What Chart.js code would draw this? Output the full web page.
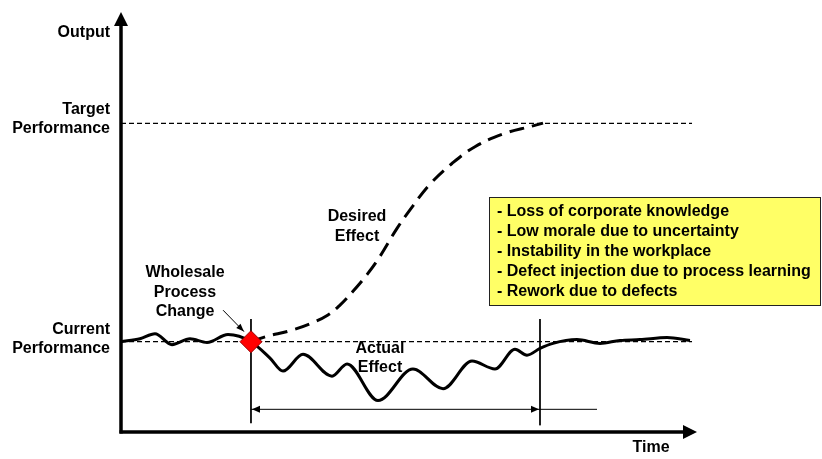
<!DOCTYPE html>
<html>
<head>
<meta charset="utf-8">
<script src="https://cdn.jsdelivr.net/npm/chart.js@4/dist/chart.umd.min.js"></script>
<style>
html,body{margin:0;padding:0;background:#fff;}
#wrap{width:822px;height:459px;position:relative;}
</style>
</head>
<body>
<div id="wrap"><canvas id="c" width="822" height="459"></canvas></div>
<script>
// ---- Data (conceptual units: time 0..100, output 0..100) ----
const CURRENT_PERF = 21.5;
const TARGET_PERF = 73.5;
const REF_END_X = 98.45;
const CHANGE_X = 22.41;
const RECOVER_X = 72.24;
const SPAN_END_X = 82.07;
const SPAN_Y = 5.4;

const actualX = [0, 3.28, 5.86, 8.79, 11.9, 14.83, 18.45, 22.41, 25.69, 27.93, 31.38, 36.38, 38.97, 44.31, 50.34, 55.52, 60.52, 64.48, 67.93, 70.0, 72.24, 74.48, 78.62, 82.59, 86.03, 89.48, 94.14, 98.1];
const actualY = [21.5, 22.2, 23.4, 20.8, 22.2, 21.3, 23.2, 21.5, 17.6, 14.5, 18.5, 13.3, 16.2, 7.5, 15.0, 10.3, 16.9, 15.0, 19.7, 18.3, 19.9, 21.1, 22.0, 21.1, 21.8, 22.0, 22.5, 21.8];

const desiredX = [22.41, 25.0, 29.14, 32.59, 35.69, 37.76, 40.0, 42.41, 44.48, 47.59, 50.34, 53.28, 57.07, 61.03, 65.86, 70.86, 72.76];
const desiredY = [21.5, 22.72, 24.12, 25.76, 27.87, 30.21, 33.49, 37.47, 41.45, 48.48, 53.86, 59.02, 63.93, 67.92, 70.96, 72.83, 73.54];

const markerTop = 26.9;
const markerBottomLeft = 2.1;
const markerBottomRight = 1.6;

// ---- Text ----
const yAxisTitle = "Output";
const xAxisTitle = "Time";
const targetLabel = ["Target", "Performance"];
const currentLabel = ["Current", "Performance"];
const changeLabel = ["Wholesale", "Process", "Change"];
const desiredLabel = ["Desired", "Effect"];
const actualLabel = ["Actual", "Effect"];
const causes = [
  "- Loss of corporate knowledge",
  "- Low morale due to uncertainty",
  "- Instability in the workplace",
  "- Defect injection due to process learning",
  "- Rework due to defects"
];

const pts = (xs, ys) => xs.map((x, i) => ({x: x, y: ys[i]}));
const FONT = 'bold 16px "Liberation Sans", Arial, sans-serif';

function arrowHead(ctx, tipX, tipY, angle, len, half) {
  ctx.save();
  ctx.translate(tipX, tipY);
  ctx.rotate(angle);
  ctx.beginPath();
  ctx.moveTo(0, 0);
  ctx.lineTo(-len, -half);
  ctx.lineTo(-len, half);
  ctx.closePath();
  ctx.fill();
  ctx.restore();
}

const decor = {
  id: 'decor',
  beforeDatasetsDraw(chart) {
    const ctx = chart.ctx, a = chart.chartArea;
    ctx.save();
    ctx.strokeStyle = '#000';
    ctx.fillStyle = '#000';
    ctx.lineWidth = 3.5;
    // y axis
    ctx.beginPath();
    ctx.moveTo(a.left, a.bottom + 1.5);
    ctx.lineTo(a.left, a.top + 12);
    ctx.stroke();
    arrowHead(ctx, a.left, a.top, -Math.PI / 2, 14, 7);
    // x axis
    ctx.beginPath();
    ctx.moveTo(a.left - 1.5, a.bottom);
    ctx.lineTo(a.right - 14, a.bottom);
    ctx.stroke();
    arrowHead(ctx, a.right - 4, a.bottom, 0, 14, 7);
    ctx.restore();
  },
  afterDatasetsDraw(chart) {
    const ctx = chart.ctx, a = chart.chartArea;
    const xs = chart.scales.x, ys = chart.scales.y;
    const px = v => xs.getPixelForValue(v), py = v => ys.getPixelForValue(v);
    ctx.save();
    ctx.fillStyle = '#000';
    ctx.strokeStyle = '#000';
    // span arrowheads
    arrowHead(ctx, px(CHANGE_X) + 1, py(SPAN_Y), Math.PI, 8, 3.5);
    arrowHead(ctx, px(RECOVER_X) - 1, py(SPAN_Y), 0, 8, 3.5);
    // pointer arrow to the change diamond
    const sx = px(17.6), sy = py(29.0), ex = px(21.2), ey = py(23.9);
    ctx.lineWidth = 1;
    ctx.beginPath();
    ctx.moveTo(sx, sy);
    ctx.lineTo(ex, ey);
    ctx.stroke();
    arrowHead(ctx, ex, ey, Math.atan2(ey - sy, ex - sx), 8, 3);

    // Text
    ctx.font = FONT;
    ctx.textBaseline = 'middle';
    ctx.textAlign = 'right';
    const lx = a.left - 11;
    ctx.fillText(yAxisTitle, lx, 33);
    ctx.fillText(targetLabel[0], lx, 110);
    ctx.fillText(targetLabel[1], lx, 129);
    ctx.fillText(currentLabel[0], lx, 330);
    ctx.fillText(currentLabel[1], lx, 349);
    ctx.textAlign = 'center';
    ctx.fillText(xAxisTitle, 651, 448);
    changeLabel.forEach((t, i) => ctx.fillText(t, 185, 273 + i * 19.5));
    desiredLabel.forEach((t, i) => ctx.fillText(t, 357, 217 + i * 19.5));
    actualLabel.forEach((t, i) => ctx.fillText(t, 380, 349 + i * 19));

    // cause box
    ctx.fillStyle = '#FFFF66';
    ctx.fillRect(489, 197, 331, 108);
    ctx.lineWidth = 1;
    ctx.strokeStyle = '#222';
    ctx.strokeRect(489.5, 197.5, 331, 108);
    ctx.fillStyle = '#000';
    ctx.textAlign = 'left';
    causes.forEach((t, i) => ctx.fillText(t, 497, 212 + i * 20));
    ctx.restore();
  }
};

new Chart(document.getElementById('c'), {
  type: 'line',
  data: {
    datasets: [
      {
        label: 'Wholesale Process Change',
        data: [{x: CHANGE_X, y: CURRENT_PERF}],
        showLine: false,
        pointStyle: 'rectRot',
        pointRadius: 11,
        pointBackgroundColor: '#FF0000',
        pointBorderColor: '#990000',
        pointBorderWidth: 1,
        order: 0
      },
      {
        label: 'Actual Effect',
        data: pts(actualX, actualY),
        borderColor: '#000',
        borderWidth: 3,
        cubicInterpolationMode: 'monotone',
        pointRadius: 0,
        order: 1
      },
      {
        label: 'Desired Effect',
        data: pts(desiredX, desiredY),
        borderColor: '#000',
        borderWidth: 3,
        borderDash: [15, 8],
        tension: 0.4,
        pointRadius: 0,
        order: 2
      },
      {
        label: 'Target Performance',
        data: [{x: 0, y: TARGET_PERF}, {x: REF_END_X, y: TARGET_PERF}],
        borderColor: '#000',
        borderWidth: 1.3,
        borderDash: [5, 3],
        pointRadius: 0,
        order: 3
      },
      {
        label: 'Current Performance',
        data: [{x: 0, y: CURRENT_PERF}, {x: REF_END_X, y: CURRENT_PERF}],
        borderColor: '#000',
        borderWidth: 1.3,
        borderDash: [5, 3],
        pointRadius: 0,
        order: 3
      },
      {
        label: 'change marker',
        data: [{x: CHANGE_X, y: markerTop}, {x: CHANGE_X, y: markerBottomLeft}],
        borderColor: '#000', borderWidth: 1, pointRadius: 0, order: 4
      },
      {
        label: 'recovery marker',
        data: [{x: RECOVER_X, y: markerTop}, {x: RECOVER_X, y: markerBottomRight}],
        borderColor: '#000', borderWidth: 1, pointRadius: 0, order: 4
      },
      {
        label: 'disruption span',
        data: [{x: CHANGE_X, y: SPAN_Y}, {x: SPAN_END_X, y: SPAN_Y}],
        borderColor: '#000', borderWidth: 1, pointRadius: 0, order: 4
      }
    ]
  },
  options: {
    responsive: false,
    animation: false,
    clip: false,
    layout: {padding: {left: 121, right: 121, top: 5, bottom: 27}},
    plugins: {legend: {display: false}, tooltip: {enabled: false}},
    scales: {
      x: {type: 'linear', min: 0, max: 100, display: false},
      y: {type: 'linear', min: 0, max: 100, display: false}
    },
    elements: {line: {fill: false}}
  },
  plugins: [decor]
});
</script>
</body>
</html>
